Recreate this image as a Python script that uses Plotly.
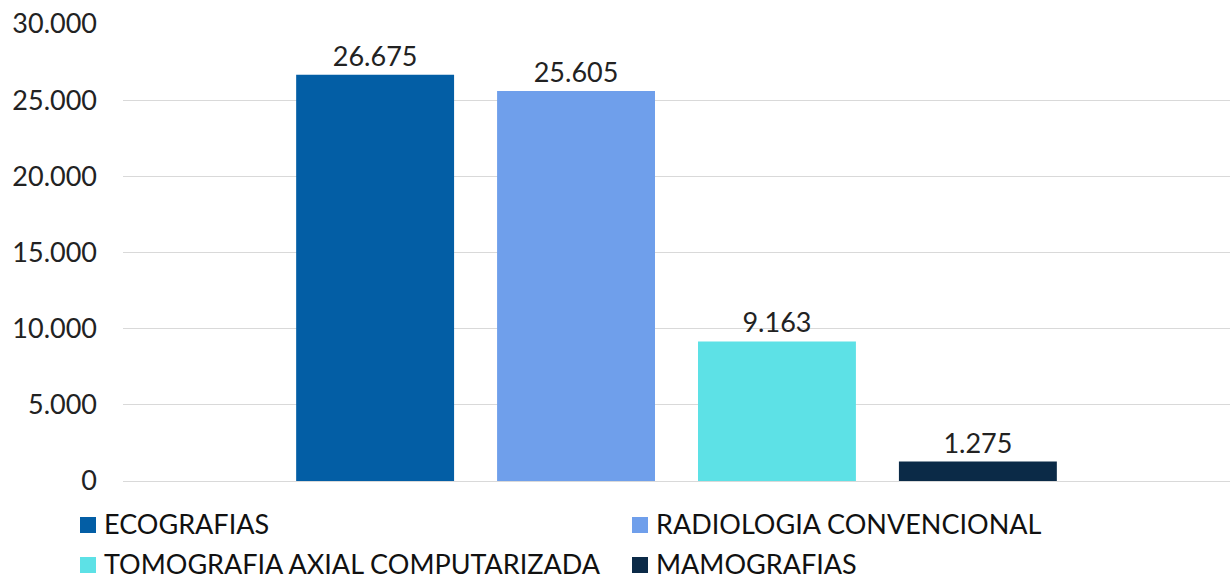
import plotly.graph_objects as go

# Estudios de imagenología realizados, por tipo
series_names = ["ECOGRAFIAS", "RADIOLOGIA CONVENCIONAL",
                "TOMOGRAFIA AXIAL COMPUTARIZADA", "MAMOGRAFIAS"]
series_values = [26675, 25605, 9163, 1275]
series_colors = ["#035EA5", "#6F9FEB", "#5DE1E6", "#0B2A47"]
category = ["Estudios"]
y_ticks = [0, 5000, 10000, 15000, 20000, 25000, 30000]

FONT = "Lato"
TEXT_COLOR = "#222222"

W, H = 1230, 581
M_L, M_R, M_T, M_B = 123, 0, 24, 100
plot_w = W - M_L - M_R
plot_h = H - M_T - M_B


def px_to_paper_x(px):
    return (px - M_L) / plot_w


def px_to_paper_y(py):
    return (H - M_B - py) / plot_h


fig = go.Figure()
for name, value, color in zip(series_names, series_values, series_colors):
    fig.add_trace(go.Bar(
        name=name,
        x=category,
        y=[value],
        marker=dict(color=color, line=dict(width=0)),
        texttemplate="%{y:,d}",
        textposition="outside",
        textfont=dict(family=FONT, size=27, color=TEXT_COLOR),
        cliponaxis=False,
        showlegend=False,
    ))

# Two-column legend drawn below the plot area
legend_cols = [80, 632]
legend_rows = [523, 563]
square = 16
for i, (name, color) in enumerate(zip(series_names, series_colors)):
    cx = legend_cols[i % 2]
    cy = legend_rows[i // 2]
    fig.add_shape(
        type="rect", xref="paper", yref="paper",
        x0=px_to_paper_x(cx), x1=px_to_paper_x(cx + square),
        y0=px_to_paper_y(cy + 2 + square / 2), y1=px_to_paper_y(cy + 2 - square / 2),
        fillcolor=color, line=dict(width=0),
    )
    fig.add_annotation(
        text=name, xref="paper", yref="paper",
        x=px_to_paper_x(cx + square + 6), y=px_to_paper_y(cy),
        xanchor="left", yanchor="middle", showarrow=False,
        font=dict(family=FONT, size=27, color="#111111"),
    )

fig.update_layout(
    width=W,
    height=H,
    barmode="group",
    bargap=0.274,
    bargroupgap=0.214,
    separators=",.",
    plot_bgcolor="white",
    paper_bgcolor="white",
    margin=dict(l=M_L, r=M_R, t=M_T, b=M_B),
    font=dict(family=FONT, size=27, color=TEXT_COLOR),
    showlegend=False,
)

fig.update_xaxes(showticklabels=False, showgrid=False, zeroline=False,
                 showline=False, ticks="")
fig.update_yaxes(
    range=[0, 30000],
    tickvals=y_ticks,
    tickformat=",d",
    showgrid=True,
    gridcolor="#D9D9D9",
    gridwidth=1,
    zeroline=True,
    zerolinecolor="#D9D9D9",
    zerolinewidth=1,
    showline=False,
    ticks="",
    ticklabelstandoff=25,
    tickfont=dict(family=FONT, size=27, color=TEXT_COLOR),
)

fig.write_html("out.html")
